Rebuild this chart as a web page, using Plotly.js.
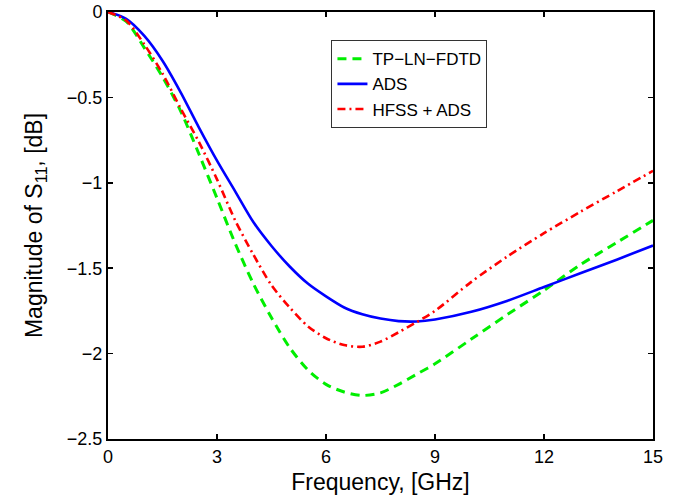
<!DOCTYPE html>
<html><head><meta charset="utf-8">
<script src="https://cdn.plot.ly/plotly-3.0.1.min.js"></script>
<style>body{margin:0;background:#fff}#c{width:676px;height:501px}</style>
</head><body><div id="c"></div>
<script>
const freq = [0, 0.5, 1, 1.5, 2, 2.5, 3, 3.5, 4, 4.5, 5, 5.5, 6, 6.5, 7, 7.5, 8, 8.5, 9, 10, 11, 12, 13, 14, 15];
const fdtd = [0, -0.055, -0.21, -0.38, -0.58, -0.83, -1.09, -1.355, -1.59, -1.79, -1.965, -2.095, -2.18, -2.225, -2.245, -2.23, -2.18, -2.12, -2.06, -1.915, -1.77, -1.63, -1.48, -1.35, -1.22];
const ads  = [0, -0.04, -0.14, -0.285, -0.47, -0.675, -0.87, -1.05, -1.23, -1.37, -1.49, -1.59, -1.665, -1.73, -1.77, -1.795, -1.81, -1.812, -1.80, -1.755, -1.69, -1.61, -1.53, -1.45, -1.367];
const hfss = [0, -0.05, -0.19, -0.36, -0.565, -0.76, -0.98, -1.22, -1.42, -1.60, -1.73, -1.84, -1.91, -1.95, -1.96, -1.93, -1.875, -1.815, -1.75, -1.58, -1.43, -1.295, -1.17, -1.05, -0.93];
const names = ["TP\u2212LN\u2212FDTD", "ADS", "HFSS + ADS"];
const xTicks = [0, 3, 6, 9, 12, 15];
const yTicks = [0, -0.5, -1, -1.5, -2, -2.5];

const traces = [
  {x: freq, y: fdtd, name: names[0], mode: 'lines', line: {color: '#00ee00', width: 3, dash: '9px,6px', shape: 'spline', smoothing: 0.8}},
  {x: freq, y: ads, name: names[1], mode: 'lines', line: {color: '#0000ff', width: 2.6, dash: 'solid', shape: 'spline', smoothing: 0.8}},
  {x: freq, y: hfss, name: names[2], mode: 'lines', line: {color: '#ff0000', width: 2.6, dash: '8px,4px,2px,4px', shape: 'spline', smoothing: 0.8}}
];
const font = {family: 'Liberation Sans, Arial, sans-serif', color: '#000'};
const layout = {
  width: 676, height: 501,
  margin: {l: 107.5, r: 23, t: 12, b: 62},
  paper_bgcolor: '#fff', plot_bgcolor: '#fff',
  font: Object.assign({size: 18}, font),
  showlegend: true,
  legend: {x: 0.41, y: 0.934, xanchor: 'left', yanchor: 'top', bordercolor: '#333', borderwidth: 1,
           bgcolor: '#fff', font: Object.assign({size: 17}, font), tracegroupgap: 0, itemwidth: 30},
  xaxis: {range: [0, 15], tickvals: xTicks, ticks: 'inside', ticklen: 5, tickwidth: 1.5, tickcolor: '#000',
          showline: true, linecolor: '#000', linewidth: 2, mirror: 'ticks', showgrid: false, zeroline: false,
          tickfont: Object.assign({size: 18}, font),
          title: {text: 'Frequency, [GHz]', font: Object.assign({size: 23}, font), standoff: 8}},
  yaxis: {range: [-2.5, 0], tickvals: yTicks, ticks: 'inside', ticklen: 5, tickwidth: 1.5, tickcolor: '#000',
          showline: true, linecolor: '#000', linewidth: 2, mirror: 'ticks', showgrid: false, zeroline: false,
          tickfont: Object.assign({size: 18}, font),
          title: {text: 'Magnitude of S<sub>11</sub>, [dB]', font: Object.assign({size: 23}, font), standoff: 18}}
};
Plotly.newPlot('c', traces, layout, {displayModeBar: false, staticPlot: true});
</script></body></html>
